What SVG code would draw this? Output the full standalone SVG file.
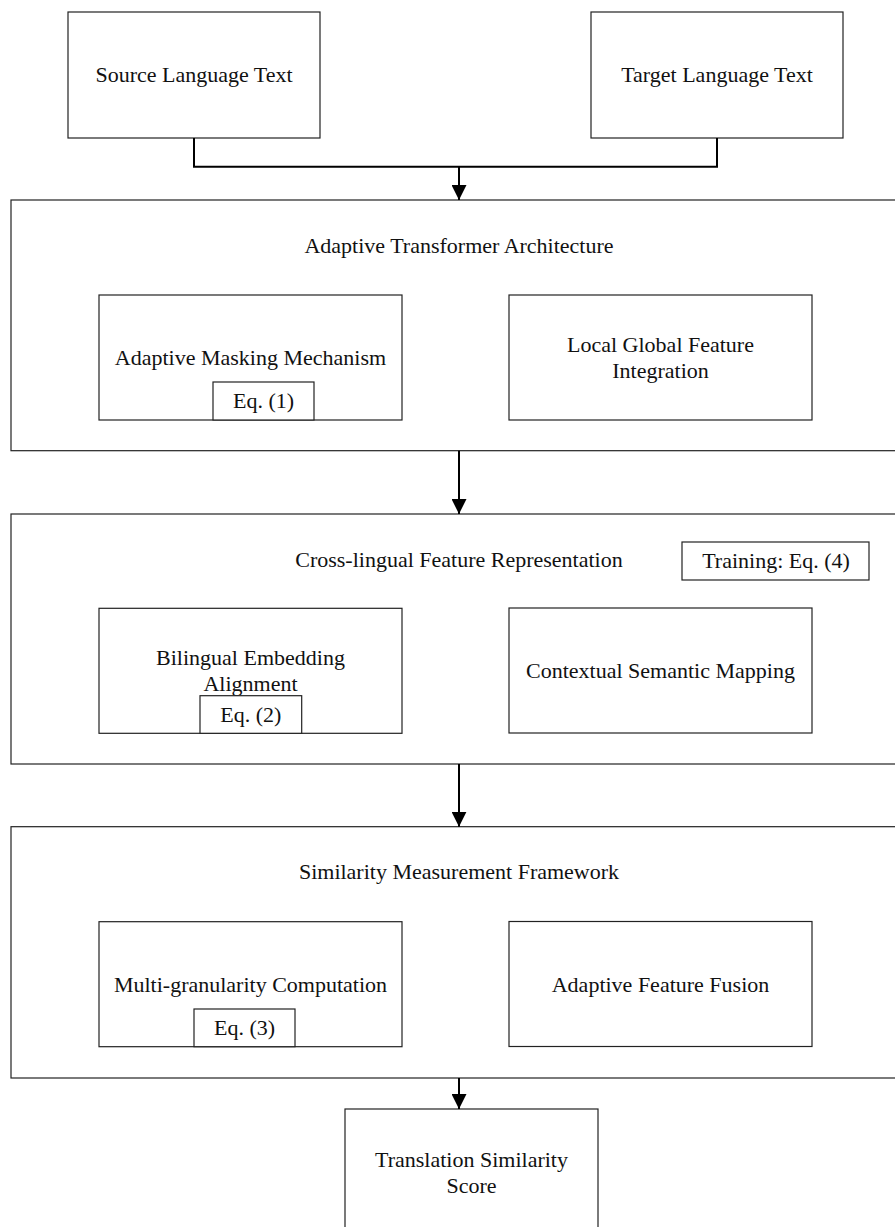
<svg xmlns="http://www.w3.org/2000/svg" width="895" height="1227" viewBox="0 0 895 1227">
<style>
.box{fill:#fff;stroke:#222;stroke-width:1.2}
.t{font-family:"Liberation Serif","Times New Roman",serif;font-size:22px;fill:#111;text-anchor:middle}
.c{fill:none;stroke:#000;stroke-width:2}
</style>
<defs>
<marker id="arr" markerUnits="userSpaceOnUse" markerWidth="15" markerHeight="15" viewBox="0 0 15 15" refX="15" refY="7.5" orient="auto">
<path d="M0,0 L15,7.5 L0,15 z" fill="#000"/>
</marker>
</defs>
<rect width="895" height="1227" fill="#fff"/>

<g id="source">
<rect class="box" x="68" y="12" width="252" height="126"/>
<text class="t" x="194" y="82">Source Language Text</text>
</g>
<g id="target">
<rect class="box" x="591" y="12" width="252" height="126"/>
<text class="t" x="717" y="82">Target Language Text</text>
</g>

<g id="block1">
<rect class="box" x="11" y="200" width="896" height="250.7"/>
<text class="t" x="459" y="253">Adaptive Transformer Architecture</text>
</g>
<g id="masking">
<rect class="box" x="99" y="295" width="303" height="125"/>
<text class="t" x="250.5" y="365">Adaptive Masking Mechanism</text>
<rect class="box" x="213" y="382" width="101" height="38"/>
<text class="t" x="263.5" y="408">Eq. (1)</text>
</g>
<g id="localglobal">
<rect class="box" x="509" y="295" width="303" height="125"/>
<text class="t" x="660.5" y="351.5">Local Global Feature</text>
<text class="t" x="660.5" y="377.5">Integration</text>
</g>

<g id="block2">
<rect class="box" x="11" y="514" width="896" height="250"/>
<text class="t" x="459" y="566.7">Cross-lingual Feature Representation</text>
</g>
<g id="training">
<rect class="box" x="682" y="542" width="187" height="38"/>
<text class="t" x="776" y="567.7">Training: Eq. (4)</text>
</g>
<g id="bilingual">
<rect class="box" x="99" y="608.3" width="303" height="125"/>
<text class="t" x="250.5" y="664.5">Bilingual Embedding</text>
<text class="t" x="250.5" y="690.5">Alignment</text>
<rect class="box" x="200" y="695.7" width="101.7" height="37.6"/>
<text class="t" x="250.8" y="721.7">Eq. (2)</text>
</g>
<g id="contextual">
<rect class="box" x="509" y="608" width="303" height="125"/>
<text class="t" x="660.5" y="677.7">Contextual Semantic Mapping</text>
</g>

<g id="block3">
<rect class="box" x="11" y="826.7" width="896" height="251.3"/>
<text class="t" x="459" y="879">Similarity Measurement Framework</text>
</g>
<g id="multigranularity">
<rect class="box" x="99" y="921.7" width="303" height="125"/>
<text class="t" x="250.5" y="991.7">Multi-granularity Computation</text>
<rect class="box" x="194" y="1009" width="101" height="37.7"/>
<text class="t" x="244.5" y="1035">Eq. (3)</text>
</g>
<g id="fusion">
<rect class="box" x="509" y="921.5" width="303" height="125"/>
<text class="t" x="660.5" y="991.7">Adaptive Feature Fusion</text>
</g>

<g id="score">
<rect class="box" x="345" y="1109" width="253" height="127"/>
<text class="t" x="471.5" y="1166.7">Translation Similarity</text>
<text class="t" x="471.5" y="1192.7">Score</text>
</g>

<g id="connectors">
<path class="c" d="M194,138 V166.7 H717 V138"/>
<path class="c" d="M459,166.7 V200" marker-end="url(#arr)"/>
<path class="c" d="M459,450.7 V514" marker-end="url(#arr)"/>
<path class="c" d="M459,764 V826.7" marker-end="url(#arr)"/>
<path class="c" d="M459,1078 V1109" marker-end="url(#arr)"/>
</g>
</svg>
